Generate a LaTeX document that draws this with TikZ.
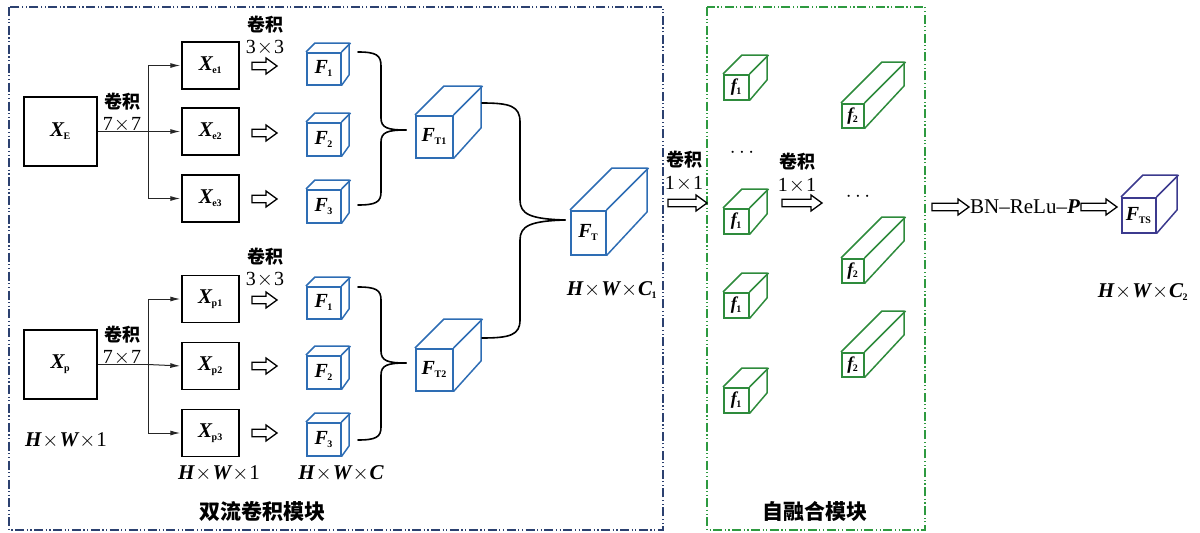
\documentclass[tikz,border=0pt]{standalone}
\usepackage{fontspec}
\setmainfont{Liberation Serif}
\newfontfamily\cjk{Noto Sans CJK SC}
\usetikzlibrary{arrows.meta,calc}
\definecolor{cblue}{HTML}{2E6DB4}
\definecolor{cgreen}{HTML}{2E8B3C}
\definecolor{cpurple}{HTML}{3C3A8E}
\definecolor{navy}{HTML}{2C4170}
\definecolor{dgreen}{HTML}{2E9A40}
\newcommand\cubedraw[9]{%
  \node[draw=#7, line width=1.5pt, minimum width=#4pt, minimum height=#5pt, inner sep=0pt, anchor=north west, font=\fontsize{#9}{#9}\selectfont] (#1) at (#2,#3) {#8};
  \draw[#7, line width=1.5pt, line join=round] (#1.north west) -- ++(#6,-#6) -- ++(#4,0) -- ++(0,#5) -- (#1.south east);
  \draw[#7, line width=1.5pt] (#1.north east) -- ++(#6,-#6);}
\newcommand\vv[2]{{\bfseries\itshape #1}\textsubscript{\kern-0.5pt\fontsize{10}{10}\selectfont\bfseries\upshape #2}}
\newcommand\iv[1]{{\bfseries\itshape #1}}
\newcommand\tms{\kern1pt$\times$\kern1pt}
\begin{document}
\begin{tikzpicture}[x=1pt,y=-1pt,
  every node/.style={font=\fontsize{21}{22}\selectfont},
  blk/.style={draw, line width=1.4pt, inner sep=0pt},
  cn/.style={font=\cjk\bfseries\fontsize{18}{19}\selectfont, inner sep=0pt, text height=13pt, text depth=1pt},
  lbl/.style={inner sep=0pt},
  dg/.style={inner sep=0pt, text height=13pt, text depth=0pt, font=\fontsize{20}{20}\selectfont},
  conn/.style={line width=1pt, draw=black!85},
  arr/.style={conn, -{Latex[length=10pt,width=5pt]}, shorten >=1pt},
  brc/.style={line width=1.6pt, line cap=round},
  pics/harrow/.style={code={\draw[line width=1.3pt, line join=miter, fill=white] (0,-3.8) -- ({#1-11},-3.8) -- ({#1-11},-8) -- (#1,0) -- ({#1-11},8) -- ({#1-11},3.8) -- (0,3.8) -- cycle;}},
  ddbox/.style={line width=1.3pt, dash pattern=on 9pt off 2.5pt on 1.2pt off 2.5pt on 1.2pt off 2.5pt}
]
\useasboundingbox (0,0) rectangle (1200,533);
% outer boxes
\draw[ddbox, navy] (9,7) rectangle (663,530);
\draw[ddbox, dgreen] (707,7) rectangle (925,530);
\node[cn, font=\cjk\bfseries\fontsize{21}{21}\selectfont, text height=15pt] (t1) at (262,512) {双流卷积模块};
\node[cn, font=\cjk\bfseries\fontsize{21}{21}\selectfont, text height=15pt] (t2) at (815,512) {自融合模块};

% upper stream
\node[blk, minimum width=73pt, minimum height=69pt] (XE) at (60.5,131.5) {\vv{X}{E}};
\node[blk, minimum width=57pt, minimum height=47pt] (Xe1) at (210.5,65.5) {\vv{X}{e1}};
\node[blk, minimum width=57pt, minimum height=47pt] (Xe2) at (210.5,131.5) {\vv{X}{e2}};
\node[blk, minimum width=57pt, minimum height=47pt] (Xe3) at (210.5,198.5) {\vv{X}{e3}};
\coordinate (bE) at (148,131.5);
\draw[conn] (XE.east) -- (bE);
\draw[arr] (bE) |- (Xe1.west);
\draw[arr] (bE) -- (Xe2.west);
\draw[arr] (bE) |- (Xe3.west);
\node[cn] (cE1) at (122,102) {卷积};
\node[dg] (cE2) at (122,124) {7\tms7};

% lower stream
\node[blk, minimum width=73pt, minimum height=69pt] (XP) at (60.5,364.5) {\vv{X}{p}};
\node[blk, minimum width=57pt, minimum height=47pt] (Xp1) at (210.5,299) {\vv{X}{p1}};
\node[blk, minimum width=57pt, minimum height=47pt] (Xp2) at (210.5,366) {\vv{X}{p2}};
\node[blk, minimum width=57pt, minimum height=47pt] (Xp3) at (210.5,433) {\vv{X}{p3}};
\coordinate (bP) at (148,364.5);
\draw[conn] (XP.east) -- (bP);
\draw[arr] (bP) |- (Xp1.west);
\draw[arr] (bP) -- (Xp2.west);
\draw[arr] (bP) |- (Xp3.west);
\node[cn] (cP1) at (122,335) {卷积};
\node[dg] (cP2) at (122,357) {7\tms7};
\node[lbl] (d1) at (66,440) {\iv{H}\tms\iv{W}\tms1};
\node[lbl] (d2) at (219,473) {\iv{H}\tms\iv{W}\tms1};
\node[lbl] (d3) at (341,473) {\iv{H}\tms\iv{W}\tms\iv{C}};

% 3x3 labels
\node[cn] (c31) at (265,25) {卷积};
\node[dg] (c32) at (265,47) {3\tms3};
\node[cn] (c33) at (265,257) {卷积};
\node[dg] (c34) at (265,279) {3\tms3};

% hollow arrows
\pic at (252,66) {harrow=25};
\pic at (252,133) {harrow=25};
\pic at (252,199) {harrow=25};
\pic at (252,300) {harrow=25};
\pic at (252,366) {harrow=25};
\pic at (252,433) {harrow=25};

% small cubes
\cubedraw{F1}{306}{52}{34}{32}{9}{cblue}{\vv{F}{1}}{20}
\cubedraw{F2}{306}{122}{34}{33}{9}{cblue}{\vv{F}{2}}{20}
\cubedraw{F3}{306}{189}{34}{33}{9}{cblue}{\vv{F}{3}}{20}
\cubedraw{G1}{306}{286}{34}{32}{9}{cblue}{\vv{F}{1}}{20}
\cubedraw{G2}{306}{355}{34}{33}{9}{cblue}{\vv{F}{2}}{20}
\cubedraw{G3}{306}{422}{34}{33}{9}{cblue}{\vv{F}{3}}{20}

% braces
\coordinate (b1t) at (358,52); \coordinate (b1b) at (358,205); \coordinate (b1m) at (406,130);
\draw[brc] (b1t) .. controls (376,52) and (381,55) .. (381,66) -- (381,118) .. controls (381,128) and (388,130) .. (b1m);
\draw[brc] (b1b) .. controls (376,205) and (381,202) .. (381,192) -- (381,142) .. controls (381,132) and (388,130) .. (b1m);
\coordinate (b2t) at (358,287); \coordinate (b2b) at (358,440); \coordinate (b2m) at (406,363);
\draw[brc] (b2t) .. controls (376,287) and (381,290) .. (381,300) -- (381,351) .. controls (381,361) and (388,363) .. (b2m);
\draw[brc] (b2b) .. controls (376,440) and (381,437) .. (381,427) -- (381,375) .. controls (381,365) and (388,363) .. (b2m);

\cubedraw{FT1}{415}{115}{37}{42}{29}{cblue}{\vv{F}{T1}}{20}
\cubedraw{FT2}{415}{348}{37}{42}{29}{cblue}{\vv{F}{T2}}{20}

\coordinate (b3t) at (482,103); \coordinate (b3b) at (482,338); \coordinate (b3m) at (565,220);
\draw[brc] (b3t) .. controls (510,103) and (520,106) .. (520,122) -- (520,200) .. controls (520,214) and (530,219) .. (b3m);
\draw[brc] (b3b) .. controls (510,338) and (520,335) .. (520,320) -- (520,240) .. controls (520,226) and (530,221) .. (b3m);

\cubedraw{FT}{570}{210}{35}{44}{42}{cblue}{\vv{F}{T}}{20}
\node[lbl] (d4) at (612,290) {\iv{H}\tms\iv{W}\tms\vv{C}{1}};

% self fusion
\node[cn] (c11) at (684,160) {卷积};
\node[dg] (c12) at (684,183) {1\tms1};
\pic at (668,203) {harrow=39};
\cubedraw{f1a}{723}{74}{25}{25}{19}{cgreen}{\vv{f}{1}}{18}
\cubedraw{f1b}{723}{208}{25}{25}{19}{cgreen}{\vv{f}{1}}{18}
\cubedraw{f1c}{723}{292}{25}{25}{19}{cgreen}{\vv{f}{1}}{18}
\cubedraw{f1d}{723}{387}{25}{25}{19}{cgreen}{\vv{f}{1}}{18}
\node[lbl] (dots1) at (742,153) {$\cdots$};
\node[cn] (c13) at (797,162) {卷积};
\node[dg] (c14) at (797,185) {1\tms1};
\pic at (782,203) {harrow=40};
\node[lbl] (dots2) at (858,197) {$\cdots$};
\cubedraw{f2a}{841}{103}{22}{24}{41}{cgreen}{\vv{f}{2}}{18}
\cubedraw{f2b}{841}{258}{22}{24}{41}{cgreen}{\vv{f}{2}}{18}
\cubedraw{f2c}{841}{352}{22}{24}{41}{cgreen}{\vv{f}{2}}{18}

% output
\pic at (932,207) {harrow=37};
\node[lbl] (bn) at (1025,207) {BN--ReLu--\iv{P}};
\pic at (1081,207) {harrow=36};
\cubedraw{FTS}{1121}{197}{34}{35}{22}{cpurple}{\vv{F}{TS}}{20}
\node[lbl] (d5) at (1143,292) {\iv{H}\tms\iv{W}\tms\vv{C}{2}};
\end{tikzpicture}
\end{document}
